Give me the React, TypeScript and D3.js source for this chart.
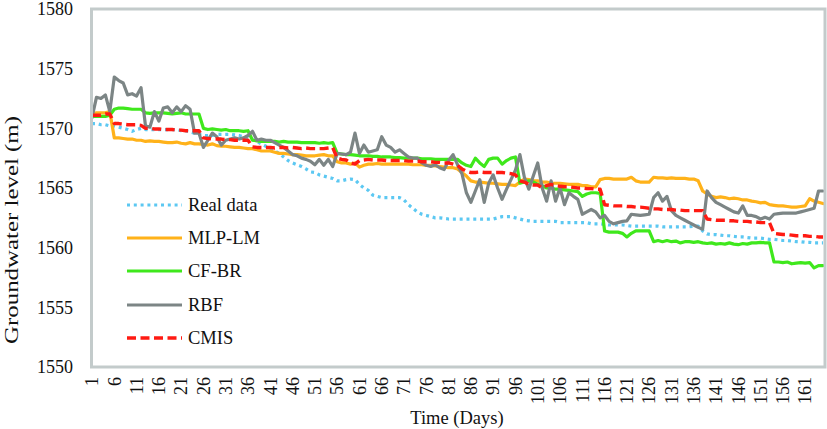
import React from "react";
import * as d3 from "d3";

const W = 827;
const H = 429;

const seriesNames = ["Real data", "MLP-LM", "CF-BR", "RBF", "CMIS"];

const yTicks = [1550, 1555, 1560, 1565, 1570, 1575, 1580];

const xTickLabels = [
  "1", "6", "11", "16", "21", "26", "31", "36", "41", "46", "51", "56", "61", "66", "71", "76", "81",
  "86", "91", "96", "101", "106", "111", "116", "121", "126", "131", "136", "141", "146", "151", "156", "161",
];

const realData = [
  1570.4, 1570.4, 1570.3, 1570.3, 1570.2,
  1570.2, 1570.1, 1570.0, 1569.9, 1569.75,
  1569.9, 1570.0, 1569.9, 1569.9, 1569.9,
  1569.9, 1569.9, 1569.9, 1569.9, 1569.9,
  1569.8, 1569.8, 1569.7, 1569.6, 1569.5,
  1569.4, 1569.4, 1569.4, 1569.5, 1569.5,
  1569.5, 1569.5, 1569.45, 1569.4, 1569.3,
  1569.2, 1569.05, 1568.9, 1568.7, 1568.5,
  1568.3, 1568.1, 1567.9, 1567.6, 1567.3,
  1567.1, 1566.95, 1566.8, 1566.6, 1566.35,
  1566.3, 1566.1, 1566.0, 1565.9, 1565.8,
  1565.6, 1565.6, 1565.7, 1565.75, 1565.7,
  1565.3, 1565.0, 1564.8, 1564.4, 1564.3,
  1564.2, 1564.2, 1564.2, 1564.2, 1564.2,
  1564.0, 1563.6, 1563.3, 1563.0, 1562.8,
  1562.7, 1562.6, 1562.5, 1562.5, 1562.45,
  1562.4, 1562.4, 1562.4, 1562.4, 1562.4,
  1562.4, 1562.4, 1562.4, 1562.4, 1562.4,
  1562.4, 1562.5, 1562.6, 1562.6, 1562.6,
  1562.5, 1562.4, 1562.3, 1562.25, 1562.2,
  1562.2, 1562.2, 1562.2, 1562.2, 1562.2,
  1562.1, 1562.1, 1562.1, 1562.1, 1562.1,
  1562.1, 1562.1, 1562.0, 1562.0, 1562.0,
  1561.95, 1561.9, 1561.9, 1561.9, 1561.9,
  1561.85, 1561.8, 1561.8, 1561.8, 1561.8,
  1561.8, 1561.8, 1561.8, 1561.75, 1561.75,
  1561.75, 1561.75, 1561.75, 1561.75, 1561.75,
  1561.8, 1561.8, 1561.4, 1561.15, 1561.1,
  1561.1, 1561.05, 1561.0, 1561.0, 1560.95,
  1560.9, 1560.9, 1560.85, 1560.8, 1560.8,
  1560.8, 1560.75, 1560.7, 1560.7, 1560.65,
  1560.6, 1560.6, 1560.55, 1560.5, 1560.5,
  1560.45, 1560.45, 1560.4, 1560.4, 1560.4,
];

const mlpLm = [
  1571.2, 1571.3, 1571.3, 1571.3, 1571.4,
  1569.2, 1569.2, 1569.15, 1569.1, 1569.1,
  1569.0, 1569.0, 1568.9, 1568.95, 1568.9,
  1568.9, 1568.85, 1568.8, 1568.8, 1568.85,
  1568.75, 1568.7, 1568.8, 1568.7, 1568.7,
  1568.65, 1568.6, 1568.7, 1568.55, 1568.5,
  1568.5, 1568.45, 1568.4, 1568.4, 1568.35,
  1568.3, 1568.3, 1568.2, 1568.1, 1568.1,
  1568.1, 1568.0, 1567.9, 1567.9, 1567.85,
  1567.8, 1567.8, 1567.75, 1567.7, 1567.7,
  1567.7, 1567.75, 1567.8, 1567.7, 1567.7,
  1567.2, 1567.1, 1567.1, 1567.0, 1567.1,
  1566.75, 1566.9, 1567.0, 1567.0, 1567.05,
  1567.0, 1567.0, 1567.0, 1567.0, 1567.0,
  1567.0, 1567.0, 1566.95, 1566.95, 1566.95,
  1566.9, 1566.9, 1566.85, 1566.8, 1566.75,
  1566.7, 1566.7, 1566.6, 1566.3, 1566.0,
  1565.6, 1565.5, 1565.5, 1565.45, 1565.4,
  1565.4, 1565.35, 1565.3, 1565.3, 1565.25,
  1565.2, 1565.5, 1565.75, 1565.7, 1565.6,
  1565.6, 1565.5, 1565.5, 1565.4, 1565.4,
  1565.4, 1565.35, 1565.3, 1565.3, 1565.3,
  1565.2, 1565.2, 1565.1, 1565.1, 1565.7,
  1565.8, 1565.8, 1565.75, 1565.75, 1565.75,
  1565.75, 1565.9, 1565.6, 1565.5, 1565.5,
  1565.5, 1565.9, 1565.85, 1565.85, 1565.8,
  1565.85, 1565.8, 1565.8, 1565.8, 1565.75,
  1565.75, 1565.6, 1564.75, 1564.5, 1564.3,
  1564.2, 1564.25, 1564.2, 1564.1, 1564.15,
  1564.1, 1564.0, 1564.0, 1563.9, 1563.85,
  1563.75, 1563.8, 1563.6, 1563.55, 1563.5,
  1563.5, 1563.45, 1563.4, 1563.4, 1563.45,
  1563.5, 1564.1, 1563.9, 1563.8, 1563.7,
];

const cfBr = [
  1571.0, 1571.0, 1571.0, 1571.0, 1571.1,
  1571.6, 1571.7, 1571.7, 1571.65, 1571.6,
  1571.6, 1571.6, 1571.3, 1571.25, 1571.3,
  1571.3, 1571.3, 1571.25, 1571.2, 1571.25,
  1571.3, 1571.2, 1571.2, 1571.2, 1571.2,
  1570.0, 1569.9, 1569.95, 1569.9, 1569.85,
  1569.9, 1569.8, 1569.8, 1569.8, 1569.75,
  1569.8, 1569.0, 1568.95, 1568.9, 1568.9,
  1568.9, 1568.9, 1568.85, 1568.9, 1568.85,
  1568.85, 1568.85, 1568.8, 1568.8, 1568.8,
  1568.8, 1568.75, 1568.8, 1568.75, 1568.8,
  1567.9, 1567.85, 1567.8, 1567.8, 1567.75,
  1567.7, 1567.7, 1567.7, 1567.65, 1567.65,
  1567.6, 1567.6, 1567.6, 1567.55, 1567.55,
  1567.5, 1567.5, 1567.5, 1567.5, 1567.45,
  1567.45, 1567.45, 1567.4, 1567.4, 1567.4,
  1567.4, 1567.4, 1567.4, 1567.1, 1566.9,
  1566.8, 1567.5, 1567.1, 1566.8, 1567.4,
  1567.5, 1567.5, 1567.0, 1567.3, 1567.5,
  1567.6, 1565.4, 1565.5, 1565.6, 1565.5,
  1565.3, 1565.2, 1565.0, 1565.0, 1564.9,
  1564.9, 1564.85, 1564.8, 1564.75, 1564.7,
  1564.3, 1564.5, 1564.6, 1564.6, 1564.55,
  1561.4, 1561.3, 1561.3, 1561.3, 1561.2,
  1560.9, 1561.2, 1561.4, 1561.4, 1561.4,
  1561.4, 1560.5, 1560.6, 1560.5, 1560.6,
  1560.5, 1560.55, 1560.4, 1560.5, 1560.5,
  1560.45, 1560.5, 1560.4, 1560.35, 1560.4,
  1560.3, 1560.35, 1560.3, 1560.4, 1560.3,
  1560.25, 1560.35, 1560.3, 1560.4, 1560.4,
  1560.45, 1560.4, 1560.4, 1558.8, 1558.8,
  1558.75, 1558.8, 1558.65, 1558.7, 1558.75,
  1558.7, 1558.75, 1558.3, 1558.5, 1558.5,
];

const rbf = [
  1570.9, 1572.6, 1572.5, 1572.8, 1571.4,
  1574.3, 1574.0, 1573.8, 1572.8, 1572.9,
  1572.7, 1573.4, 1570.2, 1570.1, 1571.4,
  1570.6, 1571.7, 1571.8, 1571.3, 1571.8,
  1571.4, 1571.9, 1571.6, 1569.6, 1569.6,
  1568.4, 1569.0, 1569.6, 1569.3, 1568.6,
  1569.0, 1569.1, 1569.2, 1569.1, 1569.2,
  1569.4, 1569.75, 1569.0, 1569.1, 1569.0,
  1569.0, 1568.8, 1568.6, 1568.4, 1568.1,
  1567.8, 1567.7, 1567.5, 1567.4, 1567.25,
  1566.95, 1567.4, 1566.9, 1567.4, 1566.8,
  1567.9, 1567.85, 1567.8, 1568.0, 1569.6,
  1567.9, 1568.6, 1568.0, 1568.1, 1568.2,
  1569.3, 1568.6, 1568.4, 1568.0, 1568.2,
  1567.9, 1567.6, 1567.5, 1567.5, 1567.1,
  1566.9, 1566.8, 1566.95, 1566.7, 1566.55,
  1567.3, 1567.8, 1566.95, 1566.2, 1564.6,
  1563.8, 1564.75, 1565.7, 1563.8, 1565.4,
  1566.1, 1565.0, 1564.05, 1564.9, 1565.7,
  1566.5, 1567.8, 1565.9, 1564.9, 1566.0,
  1567.1, 1565.0, 1563.9, 1565.6, 1563.9,
  1565.0, 1563.6, 1564.6, 1564.3, 1564.05,
  1562.8, 1563.0, 1563.2, 1563.0, 1562.5,
  1562.7, 1562.2, 1562.0, 1562.1, 1562.2,
  1562.25, 1562.8, 1562.75, 1562.7, 1562.75,
  1562.8, 1564.2, 1564.6, 1563.9, 1564.3,
  1563.1, 1562.7, 1562.5, 1562.3, 1562.1,
  1561.9, 1561.7, 1561.55, 1564.75, 1564.2,
  1563.8, 1563.6, 1563.4, 1563.2, 1563.0,
  1562.9, 1563.5, 1562.7, 1562.7, 1562.6,
  1562.4, 1562.55, 1562.4, 1562.8, 1562.85,
  1562.9, 1562.9, 1562.9, 1562.9, 1563.0,
  1563.1, 1563.2, 1563.3, 1564.75, 1564.75,
];

const cmis = [
  1571.1, 1571.1, 1571.1, 1571.2, 1571.2,
  1570.4, 1570.4, 1570.35, 1570.3, 1570.3,
  1570.3, 1570.25, 1570.0, 1570.0, 1569.95,
  1569.95, 1569.9, 1569.9, 1569.9, 1569.85,
  1569.85, 1569.8, 1569.8, 1569.8, 1569.8,
  1569.2, 1569.15, 1569.1, 1569.1, 1569.1,
  1569.05, 1569.05, 1569.0, 1569.0, 1569.0,
  1569.0, 1568.45, 1568.4, 1568.4, 1568.4,
  1568.4, 1568.35, 1568.4, 1568.4, 1568.35,
  1568.4, 1568.35, 1568.3, 1568.35, 1568.3,
  1568.3, 1568.3, 1568.3, 1568.35, 1568.4,
  1567.5, 1567.4, 1567.35, 1567.1, 1567.0,
  1567.3, 1567.35, 1567.4, 1567.35, 1567.35,
  1567.35, 1567.3, 1567.3, 1567.3, 1567.3,
  1567.3, 1567.25, 1567.25, 1567.25, 1567.2,
  1567.2, 1567.2, 1567.15, 1567.15, 1567.1,
  1567.1, 1567.0, 1566.9, 1566.6, 1566.4,
  1566.3, 1566.3, 1566.35, 1566.3, 1566.3,
  1566.3, 1566.3, 1566.3, 1566.25, 1566.2,
  1566.1, 1565.6, 1565.5, 1565.3, 1565.25,
  1565.25, 1565.0, 1565.2, 1565.3, 1565.2,
  1565.15, 1565.1, 1565.1, 1565.05, 1565.0,
  1565.0, 1564.95, 1564.95, 1564.9, 1564.9,
  1563.6, 1563.55, 1563.5, 1563.5, 1563.5,
  1563.45, 1563.45, 1563.4, 1563.4, 1563.35,
  1563.3, 1563.25, 1563.25, 1563.2, 1563.2,
  1563.2, 1563.15, 1563.15, 1563.1, 1563.1,
  1563.1, 1563.1, 1563.1, 1562.4, 1562.35,
  1562.3, 1562.3, 1562.3, 1562.25, 1562.25,
  1562.2, 1562.2, 1562.2, 1562.15, 1562.15,
  1562.1, 1562.1, 1562.1, 1561.2, 1561.15,
  1561.1, 1561.1, 1561.05, 1561.0, 1561.0,
  1561.0, 1560.95, 1560.95, 1560.9, 1560.9,
];

const seriesValues = [realData, mlpLm, cfBr, rbf, cmis];

const styles = [
  { color: "#5CC8F2", width: 3.2, dash: "3 3.8", cap: "butt" },
  { color: "#FFB21A", width: 3.2, dash: null, cap: "round" },
  { color: "#3FE81C", width: 3.2, dash: null, cap: "round" },
  { color: "#7C8585", width: 3.2, dash: null, cap: "round" },
  { color: "#FF1A12", width: 3.4, dash: "9 4.5", cap: "butt" },
];

const FONT = "'Liberation Serif', 'Times New Roman', serif";

export default function App() {
  const plot = { left: 90, right: 825, top: 9, bottom: 367 };
  const nDays = realData.length;
  const x = d3.scaleLinear().domain([1, nDays]).range([92, 823]);
  const y = d3.scaleLinear().domain([1550, 1580]).range([plot.bottom, plot.top]);

  const line = d3
    .line<number>()
    .x((_, i) => x(i + 1))
    .y((v) => y(v))
    .curve(d3.curveLinear);

  const legendY = [205, 238, 271, 305, 338];

  return (
    <svg
      width={W}
      height={H}
      style={{ position: "fixed", left: 0, top: 0, background: "#fff" }}
      fontFamily={FONT}
    >
      <rect x={0} y={0} width={W} height={H} fill="#fff" />
      {/* y tick labels */}
      {yTicks.map((t) => (
        <text key={t} x={73} y={y(t)} dy="0.35em" textAnchor="end" fontSize={18} fill="#111">
          {t}
        </text>
      ))}
      {/* x tick labels */}
      {xTickLabels.map((lab) => (
        <text
          key={lab}
          transform={`translate(${x(+lab)},377) rotate(-90)`}
          dy="0.35em"
          textAnchor="end"
          fontSize={18}
          fill="#111"
        >
          {lab}
        </text>
      ))}
      {/* axis titles */}
      <text x={457} y={424} textAnchor="middle" fontSize={18.5} fill="#111">
        Time (Days)
      </text>
      <text
        transform="translate(18,230) rotate(-90)"
        textAnchor="middle"
        fontSize={19}
        textLength={228}
        lengthAdjust="spacingAndGlyphs"
        fill="#111"
      >
        Groundwater level (m)
      </text>
      {/* series */}
      <g>
        {seriesValues.map((vals, i) => (
          <path
            key={seriesNames[i]}
            d={line(vals) || ""}
            fill="none"
            stroke={styles[i].color}
            strokeWidth={styles[i].width}
            strokeDasharray={styles[i].dash || undefined}
            strokeLinejoin="round"
            strokeLinecap={styles[i].cap as any}
          />
        ))}
      </g>
      {/* plot border */}
      <rect
        x={plot.left + 1.5}
        y={plot.top}
        width={plot.right - plot.left - 1.5}
        height={plot.bottom - plot.top}
        fill="none"
        stroke="#C3CBCB"
        strokeWidth={3}
      />
      {/* legend */}
      {seriesNames.map((name, i) => (
        <g key={name}>
          <line
            x1={127}
            x2={182}
            y1={legendY[i]}
            y2={legendY[i]}
            stroke={styles[i].color}
            strokeWidth={styles[i].width}
            strokeDasharray={styles[i].dash || undefined}
          />
          <text x={188} y={legendY[i]} dy="0.35em" fontSize={18.5} fill="#111">
            {name}
          </text>
        </g>
      ))}
    </svg>
  );
}
